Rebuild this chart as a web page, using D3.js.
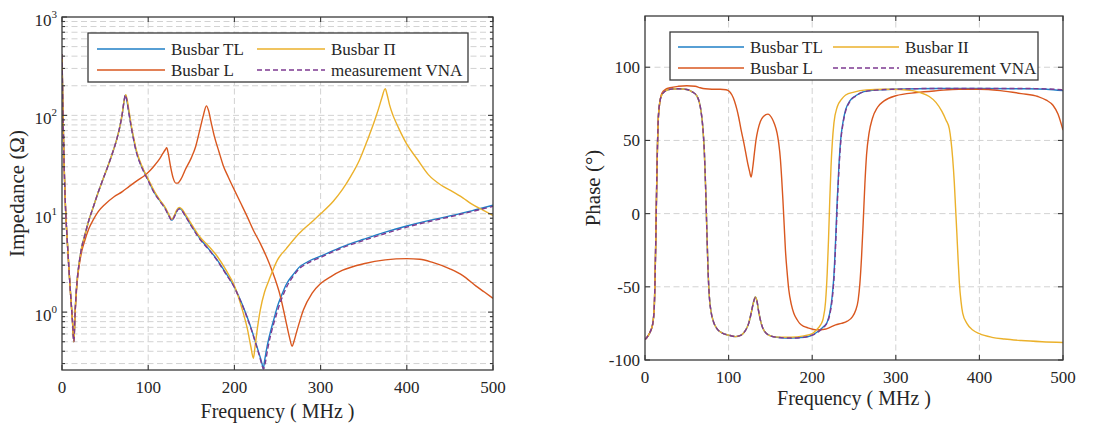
<!DOCTYPE html>
<html><head><meta charset="utf-8">
<script src="https://cdn.jsdelivr.net/npm/d3@7"></script>
<style>
body{margin:0;background:#fff}
svg{display:block}
svg text{font-family:"Liberation Serif","Times New Roman","DejaVu Serif",serif}
</style></head><body>
<svg id="fig" width="1120" height="425" font-family="Liberation Serif, Times New Roman, DejaVu Serif, serif"></svg>
<script>
// ---- frequency axis (MHz) ----
const freqTicks = [0, 100, 200, 300, 400, 500];
const impDecades = [1, 10, 100, 1000];
const phaseTicks = [-100, -50, 0, 50, 100];
const seriesNames = ["Busbar TL", "Busbar L", "Busbar \u03A0", "measurement VNA"];
const seriesNamesPhase = ["Busbar TL", "Busbar L", "Busbar II", "measurement VNA"];

// ---- impedance magnitude |Z| (ohm) : [MHz, ohm] ----
const impTL = [[0,420],[1,120],[2.5,30],[4,12],[6,5.5],[8,2.8],[10,1.5],[12,0.85],[13.8,0.5],[15,0.9],[16.5,1.6],[18,2.3],[20,3.2],[23,4.6],[26,5.8],[31,8.5],[36,11.5],[42,16.5],[48,23],[53,30],[58,40],[63,55],[67,76],[70,105],[72,140],[73.5,160],[75,145],[77,115],[80,80],[83,58],[86,44],[90,34],[95,27],[100,22],[107,16.5],[113,13.8],[120,11.3],[124,9.6],[127.5,8.6],[130,9.3],[133,10.6],[136,11.3],[139,10.9],[143,9.6],[150,7.6],[160,5.6],[170,4.4],[180,3.4],[190,2.5],[200,1.8],[205,1.45],[210,1.15],[215,0.88],[220,0.66],[225,0.48],[229,0.37],[232,0.3],[233.5,0.265],[235,0.32],[238,0.45],[242,0.64],[246,0.86],[250,1.15],[255,1.5],[260,1.9],[268,2.4],[275,2.85],[285,3.25],[300,3.7],[325,4.6],[350,5.5],[375,6.5],[400,7.5],[425,8.5],[450,9.5],[475,10.7],[500,12.2]];
const impL = [[0,420],[1,120],[2.5,30],[4,12],[6,5.5],[8,2.8],[10,1.5],[12,0.85],[13.8,0.5],[15,0.9],[16.5,1.5],[18,2.2],[20,3.0],[23,4.2],[26,5.2],[31,7.0],[36,8.6],[42,10.5],[50,12.5],[60,14.8],[70,16.8],[78,19],[88,22],[96,24.5],[103,28],[108,31.5],[113,36],[117,41],[120,45],[121.5,47],[123,42],[126,30],[129,23],[132,20.5],[134,20.5],[138,22.5],[143,28],[150,37],[155,48],[160,72],[164,100],[167.5,125],[170,112],[173,85],[177,60],[182,43],[187,31],[193,23.5],[200,17.4],[207,13],[215,9.3],[222,6.8],[230,5.0],[240,3.2],[247,2.2],[252,1.6],[257,1.05],[261,0.72],[264,0.55],[267,0.45],[269,0.5],[272,0.62],[276,0.82],[280,1.05],[290,1.55],[300,1.95],[312,2.3],[325,2.65],[350,3.1],[375,3.4],[400,3.5],[415,3.45],[430,3.2],[450,2.75],[465,2.35],[480,1.85],[490,1.6],[500,1.38]];
const impPI = [[0,420],[1,120],[2.5,30],[4,12],[6,5.5],[8,2.8],[10,1.5],[12,0.85],[13.8,0.5],[15,0.9],[16.5,1.6],[18,2.3],[20,3.2],[23,4.6],[26,5.8],[31,8.5],[36,11.5],[42,16.5],[48,23],[53,30],[58,40],[63,55],[67,76],[70,105],[72,140],[74,162],[75.5,145],[77.5,115],[80,82],[83,60],[86,45],[90,35],[95,27.5],[100,22.5],[107,17],[113,14],[120,11.5],[124,9.8],[127.5,8.8],[130,9.5],[133,10.9],[136,11.6],[139,11.2],[143,9.9],[150,7.9],[160,5.8],[170,4.7],[180,3.7],[190,2.7],[200,1.85],[205,1.4],[210,1.0],[215,0.68],[219,0.45],[222,0.34],[224,0.45],[226,0.62],[230,1.05],[235,1.6],[240,2.1],[250,3.4],[260,4.4],[275,6.3],[290,8.3],[300,10],[315,13.5],[325,17.5],[335,24],[345,35],[355,58],[362,85],[367,115],[371,150],[375,187],[377,165],[380,128],[384,100],[390,76],[400,51],[412,36],[425,25],[440,19.5],[450,17.4],[465,14.5],[475,12.6],[490,10.7],[500,9.6]];
const impVNA = [[0,420],[1,120],[2.5,30],[4,12],[6,5.5],[8,2.8],[10,1.5],[12,0.85],[13.8,0.5],[15,0.9],[16.5,1.6],[18,2.3],[20,3.2],[23,4.6],[26,5.8],[31,8.5],[36,11.5],[42,16.5],[48,23],[53,30],[58,40],[63,55],[67,76],[70,105],[72,140],[73.5,162],[75,146],[77,114],[80,79],[83,57],[86,43],[90,33.5],[95,26.5],[100,21.6],[107,16.3],[113,13.6],[120,11.1],[124,9.5],[127.5,8.5],[130,9.2],[133,10.5],[136,11.2],[139,10.8],[143,9.5],[150,7.5],[160,5.5],[170,4.35],[180,3.35],[190,2.45],[200,1.78],[205,1.43],[210,1.13],[215,0.87],[220,0.65],[225,0.47],[229,0.36],[232,0.29],[234,0.265],[236,0.31],[239,0.44],[243,0.63],[247,0.84],[251,1.1],[256,1.45],[261,1.83],[268,2.3],[275,2.75],[285,3.15],[300,3.6],[325,4.5],[350,5.35],[375,6.3],[400,7.3],[425,8.3],[450,9.3],[475,10.5],[500,11.9]];

// ---- impedance phase (deg) : [MHz, deg] ----
const phTL = [[0,-86],[3,-84],[6,-81],[9,-76],[11,-65],[12,-45],[13,-15],[14,20],[15,48],[16,66],[18,77],[20,81],[25,84],[30,85],[40,85.3],[50,84.8],[57,83],[62,80.5],[65,76],[67,70],[69,60],[71,42],[72.5,18],[74,-12],[75.5,-40],[77,-57],[79,-67],[82,-74],[86,-78.5],[92,-81.5],[100,-83],[108,-84],[115,-83],[120,-80],[124,-75],[127,-68],[130,-60],[132,-57],[134,-60],[136,-67],[139,-75],[143,-80.5],[150,-83.5],[160,-84.6],[175,-85],[190,-84.5],[200,-83],[208,-80],[214,-77],[218,-74],[221,-68],[224,-56],[226,-42],[228,-18],[230,10],[232,33],[234,50],[237,63],[240,71],[245,77],[252,80.5],[262,83.3],[280,84.5],[300,85],[350,85.5],[400,85.5],[450,85.3],[480,85],[500,84]];
const phL = [[0,-86],[3,-84],[6,-81],[9,-76],[11,-65],[12,-45],[13,-15],[14,20],[15,48],[16,66],[18,77],[20,82],[25,85],[30,86],[40,87],[50,87.4],[60,87],[66,86],[72,85.3],[80,85],[90,85],[97,84.6],[101,83.5],[104,81],[107,77],[110,71],[112,66],[115,57],[118,49],[120,43],[123,34],[125,29],[127,25],[129,32],[131,42],[133,51],[135,57],[138,63],[142,66.5],[147,68],[152,65],[155,61],[158,55],[160,48],[162,37],[163.5,24],[165,9],[166.5,-8],[168,-25],[170,-40],[172,-52],[175,-62],[178,-68],[182,-72.5],[185,-75],[190,-77],[195,-78],[205,-79.4],[215,-79],[222,-77.5],[228,-76],[235,-75],[242,-73.5],[248,-70.5],[252,-66],[255,-59],[257,-48],[259,-30],[261,-6],[263,20],[265,40],[268,55],[272,65],[278,72.5],[286,77],[300,80.5],[325,82.7],[350,84],[375,85],[400,85],[425,84],[450,82],[470,80],[480,77.5],[488,74],[494,68],[500,57]];
const phPI = [[0,-86],[3,-84],[6,-81],[9,-76],[11,-65],[12,-45],[13,-15],[14,20],[15,48],[16,66],[18,77],[20,81],[25,84],[30,85],[40,85.3],[50,84.8],[57,83],[62,80.5],[65,76],[67,70],[69,60],[71,42],[72.5,18],[74,-12],[75.5,-40],[77,-57],[79,-67],[82,-74],[86,-78.5],[92,-81.5],[100,-83],[108,-84],[115,-83],[120,-80],[124,-75],[127,-68],[130,-60],[132,-57],[134,-60],[136,-67],[139,-75],[143,-80.5],[150,-83.5],[160,-84.4],[175,-84.5],[190,-83.5],[200,-82],[205,-79.5],[210,-76],[213,-72],[216,-60],[218,-40],[219.5,-18],[221,9],[222.5,32],[224,48],[226,62],[230,73],[235,78],[240,81],[250,83],[265,84.5],[285,85],[305,84.8],[320,84],[330,82.5],[340,80],[348,76],[355,70],[360,64],[364,58],[366,50],[368,38],[370,21],[371.5,4],[373,-13],[374.5,-31],[376,-47],[378,-60],[380,-68],[385,-75],[392,-79.5],[400,-82],[415,-84.5],[430,-85.7],[450,-86.7],[475,-87.5],[500,-88]];
const phVNA = [[0,-86],[3,-84],[6,-81],[9,-76],[11,-65],[12,-45],[13,-15],[14,20],[15,48],[16,66],[18,77],[20,81],[25,84],[30,85],[40,85.3],[50,84.8],[57,83],[62,80.5],[65,76],[67,70],[69,60],[71,42],[72.5,18],[74,-12],[75.5,-40],[77,-57],[79,-67],[82,-74],[86,-78.5],[92,-81.5],[100,-83],[108,-84],[115,-83],[120,-80],[124,-75],[127,-68],[130,-60],[132,-57.5],[134,-60],[136,-67],[139,-75],[143,-80.5],[150,-83.5],[160,-84.6],[175,-85],[190,-84.5],[200,-83],[208,-80.5],[214,-77.5],[218,-74.5],[221,-69],[224,-58],[226,-45],[228,-22],[230,6],[232,30],[234,48],[237,62],[240,70],[245,76.5],[252,80.3],[262,83.2],[280,84.5],[300,85],[350,85.5],[400,85.5],[450,85.5],[480,85.2],[500,84.5]];

const colTL = "#1f7fc6", colL = "#d9571f", colPI = "#ebb12b", colVNA = "#7e3a91";
const AX = "#3a3a3a", GRID = "#d2d2d2";
const FONT = "Liberation Serif, Times New Roman, DejaVu Serif, serif";

const svg = d3.select("#fig");

function drawPanel(cfg) {
  const { x, y, id } = cfg;
  const g = svg.append("g").attr("font-family", FONT);
  const [x0, x1] = x.range(), [y0, y1] = y.range(); // y0 bottom, y1 top

  g.append("clipPath").attr("id", id).append("rect")
    .attr("x", x0).attr("y", y1).attr("width", x1 - x0).attr("height", y0 - y1);

  // grid
  const grid = g.append("g").attr("stroke", GRID).attr("stroke-width", 1)
    .attr("stroke-dasharray", "6,3.5").attr("fill", "none");
  freqTicks.filter(t => t > 0 && t < 500).forEach(t => {
    grid.append("line").attr("x1", x(t)).attr("x2", x(t)).attr("y1", y0).attr("y2", y1);
  });
  cfg.gridY.forEach(v => {
    const yy = y(v);
    if (yy > y1 + 0.5 && yy < y0 - 0.5)
      grid.append("line").attr("x1", x0).attr("x2", x1).attr("y1", yy).attr("y2", yy);
  });

  // curves
  const line = d3.line().x(d => x(d[0])).y(d => y(d[1])).curve(d3.curveMonotoneX);
  const curves = g.append("g").attr("clip-path", `url(#${id})`).attr("fill", "none");
  cfg.series.forEach(s => {
    curves.append("path").attr("d", line(s.data)).attr("stroke", s.color)
      .attr("stroke-width", 1.4).attr("stroke-dasharray", s.dash || null);
  });

  // frame and inward ticks on all sides
  g.append("rect").attr("x", x0).attr("y", y1).attr("width", x1 - x0).attr("height", y0 - y1)
    .attr("fill", "none").attr("stroke", AX).attr("stroke-width", 1.3);
  const tk = g.append("g").attr("stroke", AX).attr("stroke-width", 1.1);
  freqTicks.forEach(t => {
    tk.append("line").attr("x1", x(t)).attr("x2", x(t)).attr("y1", y0).attr("y2", y0 - 5);
    tk.append("line").attr("x1", x(t)).attr("x2", x(t)).attr("y1", y1).attr("y2", y1 + 5);
  });
  cfg.tickY.forEach(([v, len]) => {
    const yy = y(v);
    tk.append("line").attr("x1", x0).attr("x2", x0 + len).attr("y1", yy).attr("y2", yy);
    tk.append("line").attr("x1", x1).attr("x2", x1 - len).attr("y1", yy).attr("y2", yy);
  });

  // x tick labels
  const tl = g.append("g").attr("font-size", 17).attr("fill", "#262626");
  freqTicks.forEach(t => {
    tl.append("text").attr("x", x(t)).attr("y", y0 + cfg.xLabelDy).attr("text-anchor", "middle").text(t);
  });
  cfg.yLabels(tl);

  // axis titles
  g.append("text").attr("x", (x0 + x1) / 2).attr("y", cfg.xTitleY).attr("text-anchor", "middle")
    .attr("font-size", 20).attr("fill", "#262626").text("Frequency ( MHz )");
  g.append("text").attr("transform", `translate(${cfg.yTitleX},${(y0 + y1) / 2}) rotate(-90)`)
    .attr("text-anchor", "middle").attr("font-size", 21).attr("fill", "#262626").text(cfg.yTitle);

  // legend
  const L = cfg.legend;
  const lg = g.append("g");
  lg.append("rect").attr("x", L.x).attr("y", L.y).attr("width", L.w).attr("height", L.h)
    .attr("fill", "#fff").attr("stroke", AX).attr("stroke-width", 1.3);
  cfg.series.forEach((s, i) => {
    const col = Math.floor(i / 2), row = i % 2;
    const lx = L.x + L.pad + col * L.colW, ly = L.y + L.row0 + row * L.rowH;
    lg.append("line").attr("x1", lx).attr("x2", lx + L.sample).attr("y1", ly).attr("y2", ly)
      .attr("stroke", s.color).attr("stroke-width", 1.4).attr("stroke-dasharray", s.dash || null);
    lg.append("text").attr("x", lx + L.sample + 6).attr("y", ly + 6)
      .attr("font-size", 17).attr("fill", "#262626").text(s.name);
  });
}

// ---- left: impedance magnitude ----
const xImp = d3.scaleLinear().domain([0, 500]).range([62, 493]);
const yImp = d3.scaleLog().domain([0.258, 1000]).range([370, 17]);
const impAll = yImp.ticks();
drawPanel({
  id: "clipImp", x: xImp, y: yImp,
  gridY: impAll,
  tickY: impAll.map(v => [v, impDecades.includes(v) ? 5 : 3]),
  xLabelDy: 23, xTitleY: 418, yTitleX: 24, yTitle: "Impedance (\u03A9)",
  yLabels: tl => impDecades.forEach(v => {
    const t = tl.append("text").attr("x", 57).attr("y", yImp(v) + 9).attr("text-anchor", "end");
    t.append("tspan").text("10");
    t.append("tspan").attr("font-size", 11).attr("dy", -8).text(Math.round(Math.log10(v)));
  }),
  legend: { x: 88, y: 33, w: 380, h: 49, pad: 9, colW: 160, row0: 16, rowH: 21, sample: 68 },
  series: [
    { name: seriesNames[0], data: impTL, color: colTL },
    { name: seriesNames[1], data: impL, color: colL },
    { name: seriesNames[2], data: impPI, color: colPI },
    { name: seriesNames[3], data: impVNA, color: colVNA, dash: "5,3" }
  ]
});

// ---- right: impedance phase ----
const xPh = d3.scaleLinear().domain([0, 500]).range([645, 1063]);
const yPh = d3.scaleLinear().domain([-100, 135]).range([360, 16]);
drawPanel({
  id: "clipPh", x: xPh, y: yPh,
  gridY: phaseTicks,
  tickY: phaseTicks.map(v => [v, 5]),
  xLabelDy: 23, xTitleY: 405, yTitleX: 600, yTitle: "Phase (\u00B0)",
  yLabels: tl => phaseTicks.forEach(v => {
    tl.append("text").attr("x", 640).attr("y", yPh(v) + 6).attr("text-anchor", "end").text(v);
  }),
  legend: { x: 670, y: 32, w: 368, h: 48, pad: 8, colW: 155, row0: 15, rowH: 21, sample: 66 },
  series: [
    { name: seriesNamesPhase[0], data: phTL, color: colTL },
    { name: seriesNamesPhase[1], data: phL, color: colL },
    { name: seriesNamesPhase[2], data: phPI, color: colPI },
    { name: seriesNamesPhase[3], data: phVNA, color: colVNA, dash: "5,3" }
  ]
});
</script>
</body></html>
